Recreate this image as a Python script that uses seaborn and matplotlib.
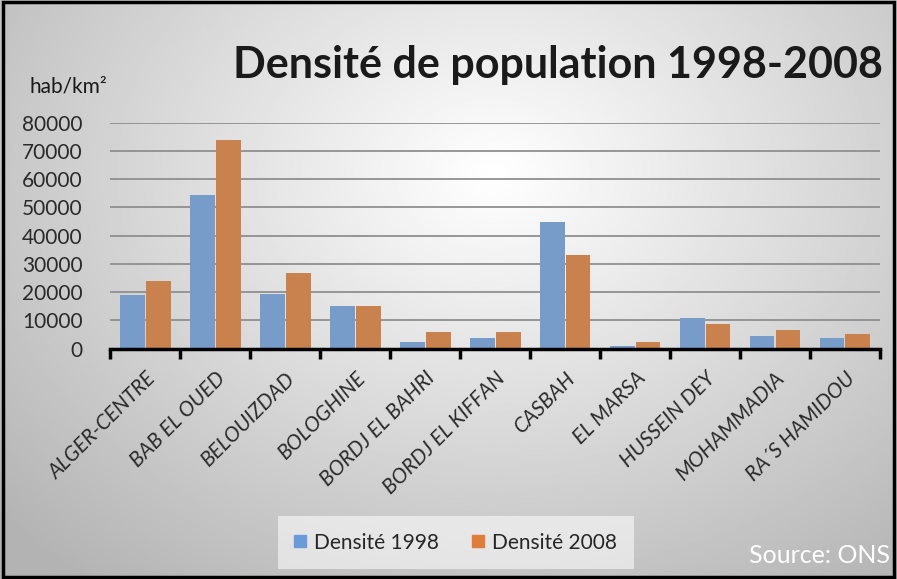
import numpy as np
import pandas as pd
import matplotlib
matplotlib.use("Agg")
import matplotlib.pyplot as plt
import seaborn as sns

communes = ["ALGER-CENTRE", "BAB EL OUED", "BELOUIZDAD", "BOLOGHINE", "BORDJ EL BAHRI",
            "BORDJ EL KIFFAN", "CASBAH", "EL MARSA", "HUSSEIN DEY", "MOHAMMADIA", "RA´S HAMIDOU"]
dens_1998 = [19000, 54500, 19500, 15000, 2300, 3900, 45000, 900, 10800, 4500, 3900]
dens_2008 = [24000, 73800, 26800, 15000, 5900, 5900, 33000, 2300, 8700, 6700, 5200]
series = ["Densité 1998", "Densité 2008"]
colors = ["#6a9bd8", "#dd7f3a"]

df = pd.DataFrame({
    "commune": communes * 2,
    "densite": dens_1998 + dens_2008,
    "serie": [series[0]] * len(communes) + [series[1]] * len(communes),
})

sns.set_theme(style="white")
plt.rcParams['font.family'] = ['Lato', 'DejaVu Sans']

fig = plt.figure(figsize=(8.97, 5.79), dpi=100)

# fond dégradé radial
bg = fig.add_axes([0, 0, 1, 1], zorder=-10)
yy, xx = np.mgrid[0:1:300j, 0:1:450j]
r = np.sqrt(((xx - 0.55) / 0.75) ** 2 + ((yy - 0.3) / 0.9) ** 2)
shade = np.clip(1.0 - 0.3 * r, 0.7, 1.0)
bg.imshow(shade, cmap="gray", vmin=0, vmax=1, aspect="auto", extent=[0, 1, 1, 0])
bg.set_axis_off()
border = plt.Rectangle((0.003, 0.004), 0.994, 0.992, transform=fig.transFigure,
                       fill=False, edgecolor="black", linewidth=2.5)
fig.add_artist(border)

ax = fig.add_axes([0.123, 0.398, 0.858, 0.39])
ax.patch.set_alpha(0)
sns.barplot(data=df, x="commune", y="densite", hue="serie", palette=colors,
            width=0.74, gap=0.04, ax=ax, legend=False, edgecolor="none")

ax.set_ylim(0, 80000)
ax.set_xlim(-0.5, len(communes) - 0.5)
ax.set_yticks(np.arange(0, 80001, 10000))
ax.set_yticklabels([str(v) for v in range(0, 80001, 10000)], fontsize=15, color="#2a2a2a")
ax.yaxis.grid(True, color="#8f8f8f", linewidth=1.3)
ax.set_axisbelow(True)
ax.tick_params(axis="y", length=0, pad=20)
for s in ["left", "right", "top"]:
    ax.spines[s].set_visible(False)
ax.spines["bottom"].set_color("black")
ax.spines["bottom"].set_linewidth(2.5)

ax.set_xticks(range(len(communes)))
ax.set_xticklabels(communes, rotation=45, ha="right", rotation_mode="anchor",
                   fontsize=15, color="#2a2a2a", style="italic")
ax.tick_params(axis="x", which="major", length=0, pad=14)
ax.set_xticks(np.arange(-0.5, len(communes), 1), minor=True)
ax.tick_params(axis="x", which="minor", length=7, width=2.5, color="black", bottom=True)
ax.set_xlabel("")
ax.set_ylabel("")

fig.text(0.622, 0.888, "Densité de population 1998-2008", fontsize=31, fontweight="bold",
         ha="center", va="center", color="#1a1a1a")
fig.text(0.033, 0.85, "hab/km²", fontsize=15, color="#1a1a1a", ha="left", va="center")

handles = [plt.Rectangle((0, 0), 1, 1, color=c) for c in colors]
leg = fig.legend(handles, series, loc="center", bbox_to_anchor=(0.508, 0.063), ncol=2,
                 frameon=True, fontsize=15, handlelength=0.55, handleheight=0.55,
                 handletextpad=0.4, columnspacing=1.6, borderpad=0.8, fancybox=False)
leg.get_frame().set_facecolor("white")
leg.get_frame().set_alpha(0.55)
leg.get_frame().set_edgecolor("none")

fig.text(0.992, 0.04, "Source: ONS", fontsize=18, color="white", ha="right", va="center")

fig.savefig("out.png", dpi=100)
